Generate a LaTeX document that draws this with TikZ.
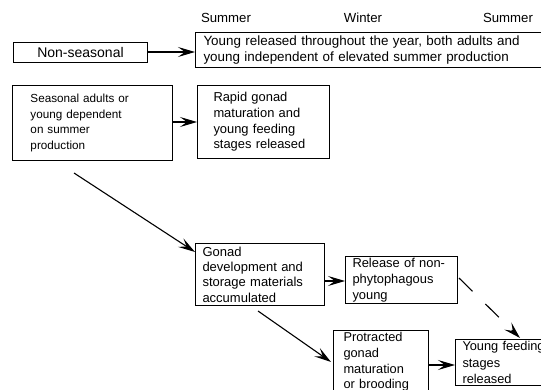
\documentclass[tikz,border=0pt]{standalone}
\usepackage{fontspec}
\setmainfont{Liberation Sans}
\usetikzlibrary{arrows.meta}
\newcommand{\fs}[1]{\fontsize{#1}{15.7}\selectfont}
\begin{document}
\begin{tikzpicture}[x=1pt,y=-1pt,
  box/.style={draw, line width=1pt, anchor=north west, align=left, inner ysep=2pt},
  lbl/.style={font=\fs{13.2}, inner sep=0pt},
  arr/.style={line width=1.1pt, -{Stealth[length=17pt,width=10pt,inset=7pt]}}]
\useasboundingbox (0,0) rectangle (541,390);
\clip (0,0) rectangle (541,390);
\node[lbl] (s1) at (226,18) {Summer};
\node[lbl] (w1) at (363,18) {Winter};
\node[lbl] (s2) at (508,18) {Summer};
\node[box, align=center, minimum width=134pt, minimum height=20pt, font=\fs{14}] (ns) at (13,42) {Non-seasonal};
\node[box, minimum width=420pt, minimum height=35pt, text width=404pt, inner xsep=8pt, font=\fs{13.4}] (yr) at (195,32)
  {Young released throughout the year, both adults and\\young independent of elevated summer production};
\node[box, minimum width=160pt, minimum height=75pt, text width=124pt, inner xsep=18pt, font=\fs{11.7}] (sea) at (12,85)
  {Seasonal adults or\\young dependent\\on summer\\production};
\node[box, minimum width=132pt, minimum height=73pt, text width=100pt, inner xsep=16pt, font=\fs{12.9}] (rap) at (197,85)
  {Rapid gonad\\maturation and\\young feeding\\stages released};
\node[box, minimum width=129pt, minimum height=62pt, text width=115pt, inner xsep=7pt, inner ysep=0pt, font=\fontsize{13}{15.3}\selectfont] (gon) at (195,243)
  {Gonad\\development and\\storage materials\\accumulated};
\node[box, minimum width=112pt, minimum height=47pt, text width=98pt, inner xsep=7pt, inner ysep=0pt, font=\fontsize{12.9}{16}\selectfont] (rel) at (345,256)
  {Release of non-\\phytophagous\\young};
\node[box, minimum width=95pt, text width=75pt, inner xsep=10pt, inner ysep=2pt, font=\fs{12.8}] (pro) at (333,330)
  {Protracted\\gonad\\maturation\\or brooding};
\node[box, minimum width=120pt, text width=106pt, inner xsep=7pt, inner ysep=2pt, font=\fontsize{12.8}{16.5}\selectfont] (yf) at (455,339)
  {Young feeding\\stages\\released\\ };
\draw[arr] (ns.east |- 0,52) -- (yr.west |- 0,52);
\draw[arr] (sea.east |- 0,122) -- (rap.west |- 0,122);
\draw[arr] ([shift={(62,12)}]sea.south west) -- ([shift={(0,9)}]gon.north west);
\draw[arr] (gon.east |- 0,281) -- (rel.west |- 0,281);
\draw[arr] ([shift={(63,5)}]gon.south west) -- ([shift={(-2,32)}]pro.north west);
\draw[arr, dash pattern=on 19pt off 18pt] ([shift={(1,22)}]rel.north east) -- ([shift={(65,-1)}]yf.north west);
\draw[arr] (pro.east |- 0,365) -- (yf.west |- 0,365);
\end{tikzpicture}
\end{document}
